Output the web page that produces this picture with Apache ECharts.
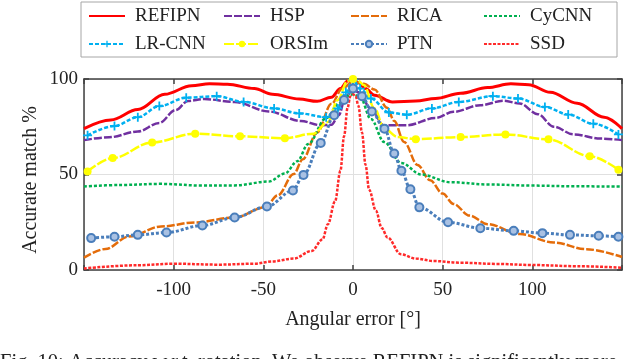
<!DOCTYPE html>
<html style="height: 100%">
<head>
<meta charset="utf-8" />
<title>Accuracy w.r.t. rotation</title>
<script type="text/javascript" src="https://cdn.jsdelivr.net/npm/echarts@6/dist/echarts.min.js"></script>
</head>
<body style="height: 100%; margin: 0;">
<div id="container" style="width: 640px; height: 359px;"></div>
<script type="text/javascript">
// values, [angular error, accurate match %]
var refipn = [[-150,74],[-135,78.5],[-120,84],[-105,92],[-90,96.5],[-80,97.5],[-70,97.3],[-55,95],[-45,92],[-30,89.5],[-20,88.3],[-12,90.5],[-7,95],[-3,99],[0,100],[3,98],[7,95],[12,91.5],[22,88],[35,88.5],[46,89.8],[60,92.5],[75,95.5],[88,97.5],[98,97],[110,93],[125,87.3],[140,80],[150,74]];
var hsp = [[-150,68],[-136,69.5],[-120,72.5],[-108,77],[-99,83.7],[-92,88.5],[-83,89.5],[-66,88],[-47,83],[-29,78],[-18,75.8],[-12,76],[-8,81],[-4,91],[0,95],[3,93],[10,84.6],[17,75.8],[30,75.8],[46,79.6],[56,82.8],[71,86.3],[84,88.6],[93,87.2],[103,81.6],[112,75],[123,71],[138,68.8],[150,68]];
var rica = [[-150,6.5],[-138,11],[-125,17.5],[-107,22.8],[-88,24.9],[-66,27.5],[-49,32.8],[-42,39],[-33,50.3],[-28,58],[-20,72],[-12,87],[-6,95],[0,98.5],[6,97.5],[12,94.5],[19,85],[23,78],[28.5,67],[36,55],[43,47],[50,40],[56,34.6],[65,28.5],[75,24],[93,18.8],[112,14.4],[130,10.9],[150,6.8]];
var cycnn = [[-150,43.7],[-130,44.5],[-107,45.1],[-84,44.2],[-66,44.3],[-47,46.3],[-38,50.5],[-31,57],[-25,66],[-15,79.5],[-8,87],[-4,91],[0,92],[4,90.5],[10,79],[17.4,67],[27,56],[38,50],[54,46],[75,44.8],[100,44.2],[125,43.8],[150,43.7]];
var lrcnn = [[-148,70.5],[-133,75.4],[-120,80],[-108,85.8],[-93,90.2],[-76,91],[-61,88],[-44,84.6],[-30,82],[-15,80],[-8.5,84.6],[-4,93],[0,99.5],[4,95],[10,89.8],[20,82.5],[30,81.3],[44,84.6],[59,88],[78,91],[92,89.8],[107,85.4],[120,81.4],[134,76.6],[148,71]];
var orsim = [[-148,51.6],[-134,58.6],[-112,66.8],[-88,71.4],[-63,70],[-38,69],[-22,71.4],[-14,77.5],[-8.5,89],[-3,99],[0,100],[3,99],[6,96.8],[12,84.6],[17.4,74],[25,69.6],[35,68.5],[60,69.6],[85,71],[109,68.4],[132,59.6],[148,52.5]];
var orsimMarked = [-148,-134,-112,-88,-63,-38,0,35,60,85,109,132,148];
var ptn = [[-146,16.7],[-133,17.4],[-120,18.4],[-104,19.6],[-84,23.3],[-66,27.5],[-48,33.2],[-33.5,41.6],[-27.6,49.8],[-18,66.5],[-10.5,81],[-5,89],[0,95],[5,91],[10.5,83],[17.5,74],[23,61],[27,52],[32,42.3],[37,32.8],[53,25],[71,21.9],[89.6,20.5],[105.6,19.3],[121,18.4],[137,17.9],[148,17.4]];
var ssd = [[-150,0.8],[-120,2.5],[-100,3.3],[-75,2.8],[-55,3.3],[-45,4.5],[-33,6],[-23,10],[-17,16],[-14,24],[-10,36],[-7,52],[-5,70],[-3,85],[-1.5,91],[0,92],[1.5,91],[3,86],[5,72],[7,55],[9,42],[12.8,31],[16,22],[19.3,17],[26.7,8.2],[35,6],[45,4.7],[60,3.8],[80,3.2],[100,2.6],[125,2],[150,1.2]];
var xTicks = [-150, 150, 50];
var yTicks = [0, 100, 50];
var caption = 'Fig. 10: Accuracy w.r.t. rotation. We observe REFIPN is significantly more';

var serif = '"Liberation Serif", "Times New Roman", serif';
var frame = {color: '#404040', width: 1.5};
var noMarker = ['REFIPN', 'HSP', 'RICA', 'CyCNN', 'SSD'];

var myChart = echarts.init(document.getElementById('container'));

function line(name, data, color, width, dash, extra) {
    var s = {
        name: name,
        type: 'line',
        data: data,
        smooth: 0.35,
        smoothMonotone: 'x',
        symbol: 'none',
        color: color,
        lineStyle: {color: color, width: width, type: dash},
        emphasis: {disabled: true}
    };
    for (var k in extra) s[k] = extra[k];
    return s;
}

var orsimData = orsim.map(function (p) {
    return orsimMarked.indexOf(p[0]) >= 0 ? p : {value: p, symbol: 'none'};
});

// legend laid out as 4 columns of 2, like the matlab box
function legendCol(left, names) {
    return {
        left: left,
        top: 5,
        orient: 'vertical',
        itemWidth: 36,
        itemHeight: 8,
        itemGap: 6,
        padding: 0,
        selectedMode: false,
        textStyle: {fontFamily: serif, fontSize: 19, color: '#222', lineHeight: 22, padding: [0, 0, 0, 5]},
        data: names.map(function (n) {
            // line-only series: hide the dot the legend would put on the line
            return noMarker.indexOf(n) >= 0 ? {name: n, itemStyle: {opacity: 0}} : {name: n};
        })
    };
}

var option = {
    animation: false,
    backgroundColor: '#fff',
    graphic: [
        {type: 'rect', z: 0, shape: {x: 81, y: 2, width: 536, height: 55},
         style: {fill: '#fff', stroke: '#a6a6a6', lineWidth: 1}},
        {type: 'text', x: 31, y: 180, rotation: Math.PI / 2, z: 10,
         style: {text: 'Accurate match %', font: '20px ' + serif, fill: '#222', align: 'center', verticalAlign: 'middle'}},
        {type: 'text', left: 0, top: 352, z: 10,
         style: {text: caption, font: '20.5px ' + serif, fill: '#222'}}
    ],
    legend: [
        legendCol(88, ['REFIPN', 'LR-CNN']),
        legendCol(223, ['HSP', 'ORSIm']),
        legendCol(350, ['RICA', 'PTN']),
        legendCol(483, ['CyCNN', 'SSD'])
    ],
    grid: {left: 84, right: 18, top: 79, bottom: 89},
    xAxis: [{
        type: 'value',
        min: xTicks[0], max: xTicks[1], interval: xTicks[2],
        position: 'bottom',
        name: 'Angular error [°]',
        nameLocation: 'middle',
        nameGap: 40,
        nameTextStyle: {fontFamily: serif, fontSize: 20, color: '#222'},
        axisLine: {show: true, onZero: false, lineStyle: frame},
        axisTick: {show: true, inside: true, length: 5, lineStyle: frame},
        axisLabel: {fontFamily: serif, fontSize: 19, color: '#222', margin: 11,
            formatter: function (v) { return (v === xTicks[0] || v === xTicks[1]) ? '' : v; }},
        splitLine: {show: true, lineStyle: {color: '#e0e0e0', width: 1}}
    }, {
        type: 'value',
        min: xTicks[0], max: xTicks[1], interval: xTicks[2],
        position: 'top',
        axisLine: {show: true, onZero: false, lineStyle: frame},
        axisTick: {show: true, inside: true, length: 5, lineStyle: frame},
        axisLabel: {show: false},
        splitLine: {show: false}
    }],
    yAxis: [{
        type: 'value',
        min: yTicks[0], max: yTicks[1], interval: yTicks[2],
        position: 'left',
        axisLine: {show: true, onZero: false, lineStyle: frame},
        axisTick: {show: true, inside: true, length: 5, lineStyle: frame},
        axisLabel: {fontFamily: serif, fontSize: 19, color: '#222', margin: 6},
        splitLine: {show: true, lineStyle: {color: '#e0e0e0', width: 1}}
    }, {
        type: 'value',
        min: yTicks[0], max: yTicks[1], interval: yTicks[2],
        position: 'right',
        axisLine: {show: true, onZero: false, lineStyle: frame},
        axisTick: {show: true, inside: true, length: 5, lineStyle: frame},
        axisLabel: {show: false},
        splitLine: {show: false}
    }],
    series: [
        line('REFIPN', refipn, '#ff0000', 3, 'solid'),
        line('HSP', hsp, '#7030a0', 2.5, [8, 2]),
        line('RICA', rica, '#e46c0a', 2.5, [8, 2]),
        line('CyCNN', cycnn, '#00b050', 2.5, [3, 2]),
        line('LR-CNN', lrcnn, '#00b0f0', 2.5, [4, 2], {
            symbol: 'path://M4,0H6V4H10V6H6V10H4V6H0V4H4Z', symbolSize: 9,
            itemStyle: {color: '#00b0f0'}
        }),
        line('ORSIm', orsimData, '#ffff00', 2.5, [10, 2], {
            symbol: 'circle', symbolSize: 8,
            itemStyle: {color: '#ffff00'}
        }),
        line('PTN', ptn, '#4a7ebb', 3, [3, 2], {
            symbol: 'circle', symbolSize: 8,
            itemStyle: {color: '#a9c1e3', borderColor: '#4a7ebb', borderWidth: 2}
        }),
        line('SSD', ssd, '#ff2a2a', 2.5, [3, 1.5])
    ]
};
myChart.setOption(option);
</script>
</body>
</html>
